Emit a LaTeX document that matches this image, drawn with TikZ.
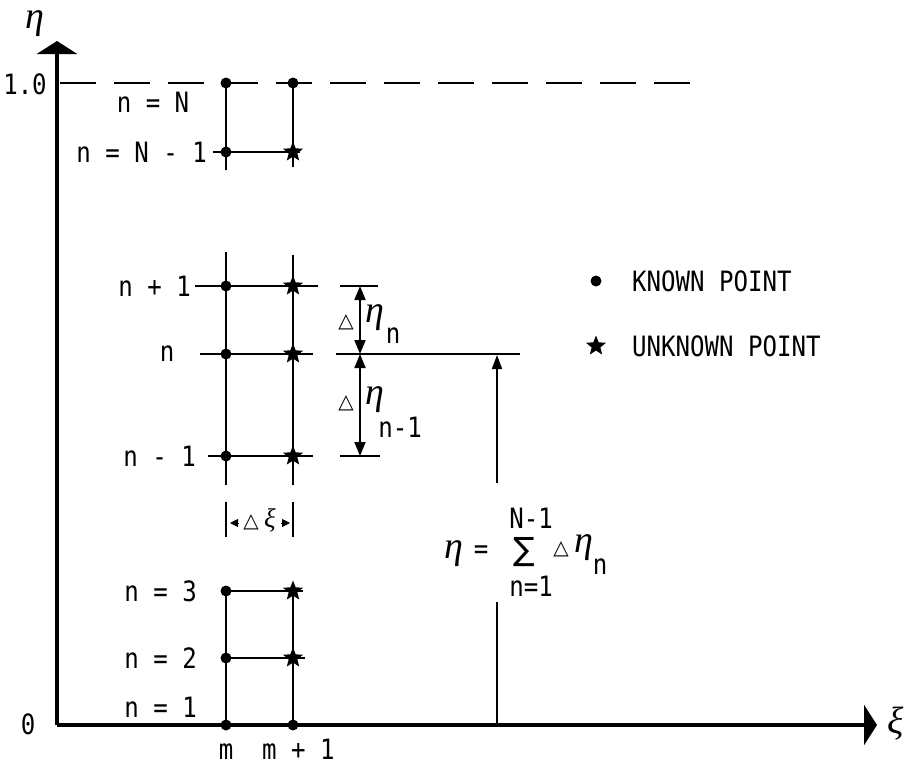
\documentclass[tikz,border=0pt]{standalone}
\usepackage{fontspec}
\usetikzlibrary{arrows.meta,shapes.geometric}
\newfontfamily\lab[FakeStretch=0.86]{DejaVu Sans Mono}
\newfontfamily\grk{Liberation Serif}
\newfontfamily\sym{DejaVu Sans}
\begin{document}
\begin{tikzpicture}[x=1pt,y=-1pt,
  lbl/.style={font={\lab\fontsize{28}{28}\selectfont}, inner sep=0pt},
  greek/.style={font={\grk\itshape\fontsize{38}{38}\selectfont}, inner sep=0pt},
  tri/.style={font={\sym\fontsize{20}{20}\selectfont}, inner sep=0pt},
  known/.style={circle, fill=black, minimum size=11pt, inner sep=0pt},
  unknown/.style={star, star points=5, star point ratio=2.3, fill=black, minimum size=21pt, inner sep=0pt},
  gridline/.style={line width=1.8pt},
  axisline/.style={line width=4pt, -{Triangle[length=13pt,width=40pt]}},
  dimline/.style={line width=1.8pt},
  dimarrow/.style={line width=1.8pt, {Triangle[length=14pt,width=11pt]}-{Triangle[length=14pt,width=11pt]}},
  bigarrow/.style={line width=1.8pt, -{Triangle[length=14pt,width=10pt]}},
  smalltip/.style={line width=1pt, -{Triangle[length=8pt,width=8pt]}},
  dashline/.style={line width=2.2pt, dash pattern=on 36pt off 18pt}
]
\useasboundingbox (0,0) rectangle (907,764);

% axes
\coordinate (O) at (57,725);
\coordinate (ytip) at (57,41);
\coordinate (xtip) at (877,725);
\draw[axisline] (O) -- (ytip);
\draw[axisline] (O) -- (xtip);
\node[greek] (etaax) at (35,24) {η};
\node[greek] (xiax) at (896,724) {ξ};
\node[lbl] (zero) at (28,724) {0};
\node[lbl] (one) at (25,84) {1.0};

% dashed line eta = 1
\coordinate (dL) at (60,83);
\coordinate (dR) at (695,83);
\draw[dashline] (dL) -- (dR);

% grid points
\node[known] (mN) at (226,83) {};
\node[known] (pN) at (293,83) {};
\node[known] (mNa) at (226,152) {};
\node[unknown] (pNa) at (293,152) {};
\node[known] (mup) at (226,286) {};
\node[unknown] (pup) at (293,286) {};
\node[known] (mn) at (226,354) {};
\node[unknown] (pn) at (293,354) {};
\node[known] (mdn) at (226,456) {};
\node[unknown] (pdn) at (293,456) {};
\node[known] (m3) at (226,591) {};
\node[unknown] (p3) at (293,591) {};
\node[known] (m2) at (226,658) {};
\node[unknown] (p2) at (293,658) {};
\node[known] (m1) at (226,725) {};
\node[known] (p1) at (293,725) {};

% top group lines
\coordinate (mTopEnd) at (226,170);
\coordinate (pTopEnd) at (293,167);
\draw[gridline] (mN.center) -- (mTopEnd);
\draw[gridline] (pN.center) -- (pTopEnd);
\coordinate (hNaL) at (213,152);
\coordinate (hNaR) at (300,152);
\draw[gridline] (hNaL) -- (hNaR);

% middle group lines
\coordinate (mMidTop) at (226,252);
\coordinate (mMidBot) at (226,485);
\coordinate (pMidTop) at (293,255);
\coordinate (pMidBot) at (293,485);
\draw[gridline] (mMidTop) -- (mMidBot);
\draw[gridline] (pMidTop) -- (pMidBot);
\coordinate (hupL) at (195,286); \coordinate (hupR) at (318,286);
\coordinate (hnL) at (200,354);  \coordinate (hnR) at (313,354);
\coordinate (hdnL) at (208,456); \coordinate (hdnR) at (313,456);
\draw[gridline] (hupL) -- (hupR);
\draw[gridline] (hnL) -- (hnR);
\draw[gridline] (hdnL) -- (hdnR);

% lower group lines
\draw[gridline] (m3.center) -- (m1.center);
\draw[gridline] (p3.center) -- (p1.center);
\coordinate (h3R) at (303,591);
\coordinate (h2R) at (305,658);
\draw[gridline] (m3.center) -- (h3R);
\draw[gridline] (m2.center) -- (h2R);

% row labels
\node[lbl] (lN) at (153,102) {n = N};
\node[lbl, anchor=east] (lNa) at (207,152) {n = N - 1};
\node[lbl, anchor=east] (lup) at (191,286) {n + 1};
\node[lbl] (ln) at (167,354) {n};
\node[lbl, anchor=east] (ldn) at (196,456) {n - 1};
\node[lbl, anchor=east] (l3) at (197,591) {n = 3};
\node[lbl, anchor=east] (l2) at (197,658) {n = 2};
\node[lbl, anchor=east] (l1) at (197,707) {n = 1};
\node[lbl, anchor=base] (lm) at (226,759) {m};
\node[lbl, anchor=base west] (lmp) at (262,759) {m + 1};

% delta xi
\coordinate (dxiLT) at (226,502); \coordinate (dxiLB) at (226,537);
\coordinate (dxiRT) at (293,502); \coordinate (dxiRB) at (293,537);
\draw[dimline] (dxiLT) -- (dxiLB);
\draw[dimline] (dxiRT) -- (dxiRB);
\node[tri] (dxtri) at (251,522) {△};
\node[greek, font={\grk\itshape\fontsize{27}{27}\selectfont}] (dxi) at (270,520) {ξ};
\coordinate (dxiAL0) at (239,523); \coordinate (dxiAL) at (230,523);
\coordinate (dxiAR0) at (281,523); \coordinate (dxiAR) at (290,523);
\draw[smalltip] (dxiAL0) -- (dxiAL);
\draw[smalltip] (dxiAR0) -- (dxiAR);

% delta eta dimensions
\coordinate (tupL) at (340,286); \coordinate (tupR) at (378,286);
\coordinate (tnL) at (336,354);  \coordinate (tnR) at (520,354);
\coordinate (tdnL) at (340,456); \coordinate (tdnR) at (380,456);
\draw[dimline] (tupL) -- (tupR);
\draw[dimline] (tnL) -- (tnR);
\draw[dimline] (tdnL) -- (tdnR);
\coordinate (aUp) at (360,286);
\coordinate (aN) at (360,354);
\coordinate (aDn) at (360,456);
\draw[dimarrow] (aUp) -- (aN);
\draw[dimarrow] (aN) -- (aDn);
\node[tri] (tri1) at (346,322) {△};
\node[greek] (eta1) at (375,318) {η};
\node[lbl] (sub1) at (393,336) {n};
\node[tri] (tri2) at (346,403) {△};
\node[greek] (eta2) at (375,400) {η};
\node[lbl] (sub2) at (400,427) {n-1};

% big arrow and formula
\coordinate (bigB) at (497,725);
\coordinate (gapB) at (497,602);
\coordinate (gapT) at (497,483);
\coordinate (bigT) at (497,355);
\draw[gridline] (bigB) -- (gapB);
\draw[bigarrow] (gapT) -- (bigT);
\node[greek] (feta) at (454,554) {η};
\node[lbl] (feq) at (481,552) {=};
\node[font={\sym\fontsize{32}{32}\selectfont}, inner sep=0pt] (fsum) at (524,552) {∑};
\node[lbl] (ftop) at (531,518) {N-1};
\node[lbl] (fbot) at (531,586) {n=1};
\node[tri] (ftri) at (561,549) {△};
\node[greek] (feta2) at (584,548) {η};
\node[lbl] (fsub) at (600,567) {n};

% legend
\node[known] (legK) at (596,281) {};
\node[lbl, anchor=west] (legKt) at (632,281) {KNOWN POINT};
\node[unknown] (legU) at (596,346) {};
\node[lbl, anchor=west] (legUt) at (632,346) {UNKNOWN POINT};
\end{tikzpicture}
\end{document}
